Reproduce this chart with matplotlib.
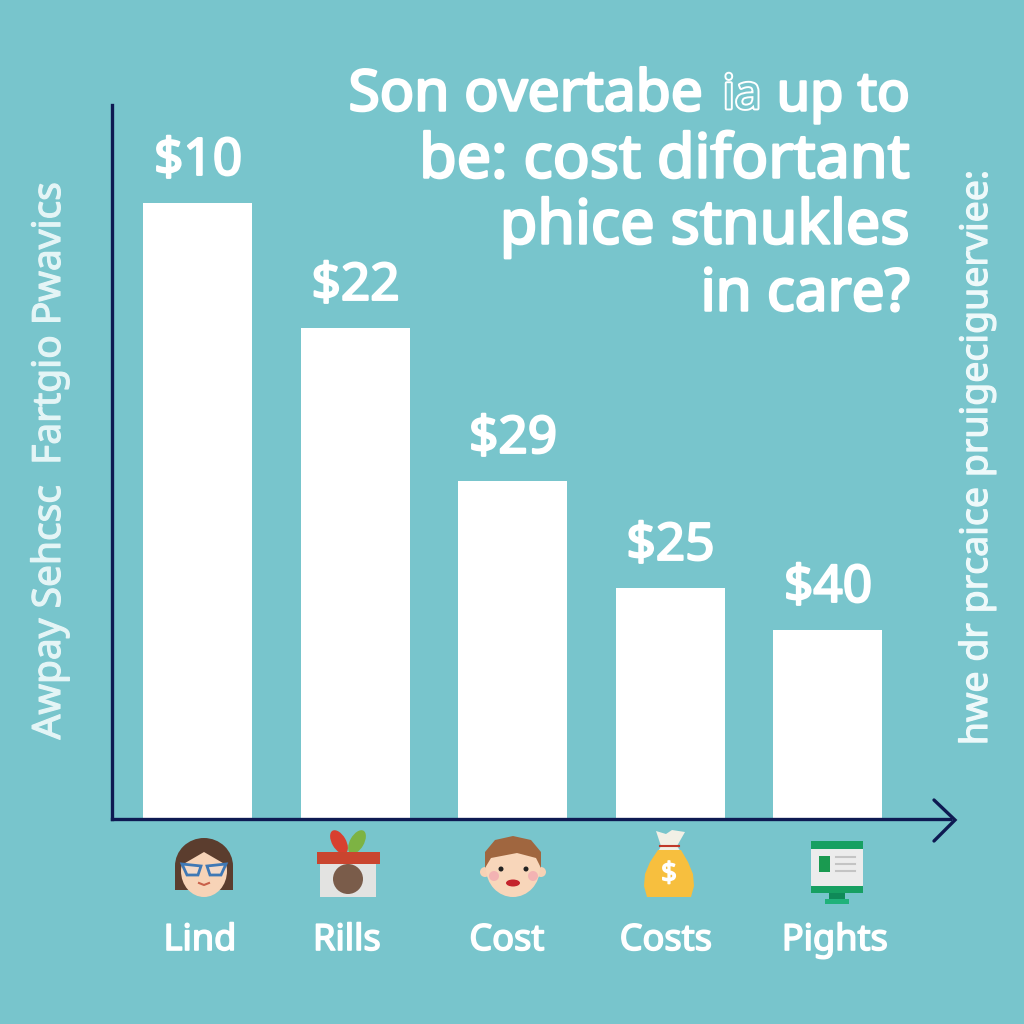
import matplotlib
matplotlib.use('Agg')
import matplotlib.pyplot as plt
import matplotlib.patheffects as pe
from matplotlib.patches import Circle, Ellipse, Polygon, Rectangle, FancyBboxPatch

# chart values
categories = ['Lind', 'Rills', 'Cost', 'Costs', 'Pights']
heights = [616, 491, 338, 231, 189]
price_labels = ['$10', '$22', '$29', '$25', '$40']
title_lines = ['be: cost difortant', 'phice stnukles', 'in care?']
left_label = 'Awpay Sehcsc  Fartgio Pwavics'
right_label = 'hwe dr prcaice pruigeciguerviee:'

BG = '#78c5cc'
NAVY = '#0e1a52'
FONT = 'Noto Sans'

plt.rcParams['font.family'] = [FONT, 'DejaVu Sans']


def fat(w, col='white'):
    # the font has no bold here, so thicken with a stroke
    return [pe.withStroke(linewidth=w, foreground=col)]


fig = plt.figure(figsize=(10.24, 10.24), dpi=100, facecolor=BG)
# pixel layer for text and icons
px = fig.add_axes([0, 0, 1, 1], zorder=3)
px.set_xlim(0, 1024)
px.set_ylim(1024, 0)
px.axis('off')

ax = fig.add_axes([112/1024, 1-819/1024, (950-112)/1024, 714/1024], zorder=1)
ax.set_facecolor('none')
ax.set_xlim(-0.546, 4.775)
ax.set_ylim(0, 714)
xs = list(range(len(categories)))
ax.bar(xs, heights, width=0.692, color='white', zorder=2)
for sp in ['top', 'right']:
    ax.spines[sp].set_visible(False)
for sp in ['left', 'bottom']:
    ax.spines[sp].set_color(NAVY)
    ax.spines[sp].set_linewidth(2.4)
    ax.spines[sp].set_zorder(3)
ax.set_xticks([])
ax.set_yticks([])

# arrow head on x axis
px.plot([934, 955, 934], [800, 820, 841], color=NAVY, lw=2.4, solid_capstyle='round', solid_joinstyle='miter')

for x, h, s in zip(xs, heights, price_labels):
    ax.annotate(s, (x, h), xytext=(0, 30), textcoords='offset points', ha='center', va='center',
                color='white', fontsize=37, path_effects=fat(1.6))

# category labels sit a bit off the bars
for cx, s in zip([200, 347, 507, 666, 835], categories):
    px.text(cx, 941, s, ha='center', va='center', color='white', fontsize=26, path_effects=fat(1.2))

# title, first line has the odd outlined word
tkw = dict(color='white', va='center', path_effects=fat(1.8))
px.text(910, 96, 'up to', ha='right', fontsize=39, **tkw)
px.text(703, 96, 'Son overtabe', ha='right', fontsize=41, **tkw)
px.text(742, 96, 'ia', ha='center', va='center', color=BG, fontsize=34,
        path_effects=[pe.withStroke(linewidth=2.8, foreground='white')])
for y, line, size in zip([162, 228, 295], title_lines, [44, 44, 42]):
    px.text(910, y, line, ha='right', fontsize=size, **tkw)

side = '#e4f5f6'
px.text(50, 461, left_label, rotation=90, ha='center', va='center', color=side, fontsize=28, path_effects=fat(0.9, side))
px.text(977, 458, right_label, rotation=90, ha='center', va='center', color='#eef9fa', fontsize=27, path_effects=fat(0.9, '#eef9fa'))


def woman(c):
    px.add_patch(Ellipse((c, 866), 58, 56, fc='#5b3d2e', ec='none'))
    px.add_patch(Rectangle((c-29, 866), 58, 24, fc='#5b3d2e', ec='none'))
    px.add_patch(Ellipse((c, 871), 46, 52, fc='#f7d3b7', ec='none'))
    px.add_patch(Polygon([(c-24, 866), (c-22, 850), (c, 843), (c+22, 850), (c+24, 866), (c, 852)], fc='#5b3d2e', ec='none'))
    px.add_patch(Polygon([(c-22, 864), (c-3, 866), (c-6, 875), (c-17, 875)], fc='#f3d9c8', ec='#3f78b5', lw=2))
    px.add_patch(Polygon([(c+22, 864), (c+3, 866), (c+6, 875), (c+17, 875)], fc='#f3d9c8', ec='#3f78b5', lw=2))
    px.plot([c-5, c, c+5], [883, 885, 883], color='#c9604a', lw=1.5)


def box(c):
    px.add_patch(Ellipse((c-9, 842), 14, 26, angle=-30, fc='#d8402f', ec='none'))
    px.add_patch(Ellipse((c+9, 842), 14, 26, angle=30, fc='#7db343', ec='none'))
    px.add_patch(Rectangle((c-28, 863), 56, 34, fc='#e3e3e1', ec='none'))
    px.add_patch(Rectangle((c-31, 852), 63, 12, fc='#c9452f', ec='none'))
    px.add_patch(Ellipse((c, 879), 30, 30, fc='#7a5c4a', ec='none'))


def man(c):
    px.add_patch(Circle((c-28, 872), 5, fc='#f6d2b5', ec='none'))
    px.add_patch(Circle((c+28, 872), 5, fc='#f6d2b5', ec='none'))
    px.add_patch(Ellipse((c, 868), 54, 58, fc='#f8d6ba', ec='none'))
    px.add_patch(Polygon([(c-28, 868), (c-28, 852), (c-18, 840), (c, 836), (c+18, 840), (c+28, 852), (c+28, 868), (c+23, 858),
                          (c+4, 853), (c-22, 858)], fc='#a0663f', ec='none', joinstyle='round'))
    px.add_patch(Circle((c-12, 869), 2.5, fc='#222222', ec='none'))
    px.add_patch(Circle((c+13, 869), 2.5, fc='#222222', ec='none'))
    px.add_patch(Circle((c-19, 876), 5, fc='#f3b3b3', ec='none'))
    px.add_patch(Circle((c+20, 876), 5, fc='#f3b3b3', ec='none'))
    px.add_patch(Ellipse((c, 883), 14, 7, fc='#c4232c', ec='none'))


def bag(c):
    px.add_patch(Polygon([(c-13, 831), (c-3, 834), (c+3, 830), (c+16, 832), (c+8, 846), (c+12, 852), (c-11, 852), (c-8, 846)],
                         fc='#f2f0e6', ec='none'))
    px.plot([c-9, c+10], [846, 846], color='#c0392b', lw=1.5)
    px.add_patch(Polygon([(c-11, 850), (c+12, 850), (c+19, 862), (c+24, 874), (c+25, 886), (c+22, 897), (c-22, 897), (c-25, 886), (c-24, 874), (c-19, 862)],
                         fc='#f7bf3e', ec='none'))
    px.text(c, 875, '$', ha='center', va='center', color='white', fontsize=20, path_effects=fat(1))


def monitor(c):
    px.add_patch(FancyBboxPatch((c-26, 843), 52, 44, boxstyle='round,pad=0,rounding_size=2', fc='#ececec', ec='none'))
    px.add_patch(Rectangle((c-26, 841), 52, 8, fc='#17a062', ec='none'))
    px.add_patch(Rectangle((c-26, 886), 52, 7, fc='#17a062', ec='none'))
    px.add_patch(Rectangle((c-8, 893), 16, 6, fc='#0f8a58', ec='none'))
    px.add_patch(Rectangle((c-12, 899), 24, 5, fc='#1fb27a', ec='none'))
    px.add_patch(Rectangle((c-18, 856), 11, 16, fc='#1a9a50', ec='none'))
    for y in [857, 864, 871]:
        px.plot([c-1, c+18], [y, y], color='#c4c4c4', lw=1.5)


woman(204)
box(348)
man(513)
bag(669)
monitor(837)

fig.savefig('out.png', dpi=100, facecolor=BG)
